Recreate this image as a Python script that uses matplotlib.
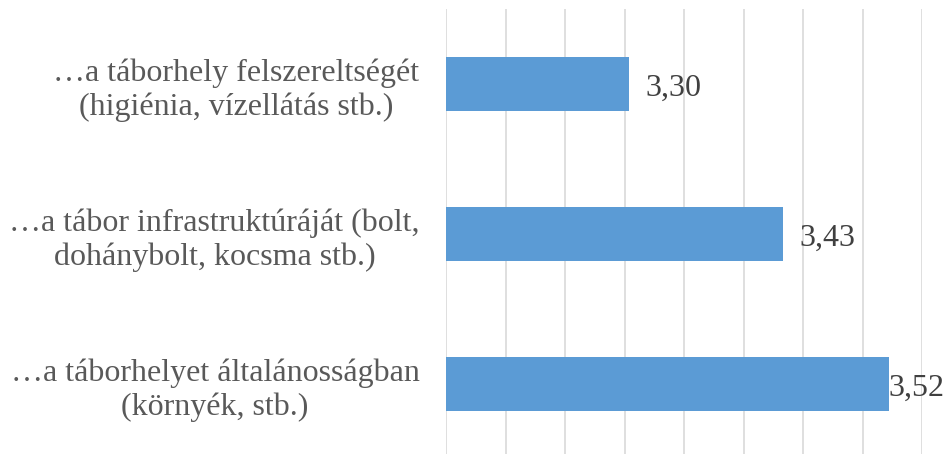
import matplotlib.pyplot as plt

# categories from bottom to top (barh draws first item at bottom)
categories = [
    "…a táborhelyet általánosságban\n(környék, stb.)",
    "…a tábor infrastruktúráját (bolt,\ndohánybolt, kocsma stb.)",
    "…a táborhely felszereltségét\n(higiénia, vízellátás stb.)",
]
values = [3.522, 3.433, 3.304]
x_min, x_max, x_step = 3.15, 3.55, 0.05

plt.rcParams['font.family'] = ['Liberation Serif', 'DejaVu Serif']

fig = plt.figure(figsize=(9.47, 4.54), dpi=100)
ax = fig.add_axes([446/947, 1 - 459/454, (922-446)/947, 450/454])

ypos = list(range(len(categories)))
ax.barh(ypos, values, height=0.355, color="#5B9BD5", zorder=3)

ax.set_xlim(x_min, x_max)
ax.set_ylim(-0.5, len(categories) - 0.5)
n_ticks = int(round((x_max - x_min) / x_step)) + 1
ax.set_xticks([x_min + i * x_step for i in range(n_ticks)])
ax.xaxis.grid(True, color="#d9d9d9", linewidth=1.2, zorder=0)
ax.tick_params(axis="x", length=0, labelbottom=False)
ax.tick_params(axis="y", length=0, pad=19)
ax.set_yticks(ypos)
ax.set_yticklabels(categories, fontsize=23, color="#595959", multialignment="center",
                   linespacing=1.2)
for s in ax.spines.values():
    s.set_visible(False)

texts = []
for y, v in zip(ypos, values):
    lab = f"{v:.2f}".replace(".", ",")
    t = ax.annotate(lab, xy=(v, y), xytext=(12, -3), textcoords="offset points",
                    ha="left", va="center", fontsize=23, color="#404040")
    texts.append(t)

# keep data labels inside the figure, like the original
fig.canvas.draw()
r = fig.canvas.get_renderer()
for t in texts:
    bb = t.get_window_extent(r)
    over = bb.x1 - (fig.bbox.width - 6)
    if over > 0:
        ox, oy = t.xyann
        t.xyann = (max(ox - over * 72 / fig.dpi, 0), oy)

fig.savefig("out.png", dpi=100)
